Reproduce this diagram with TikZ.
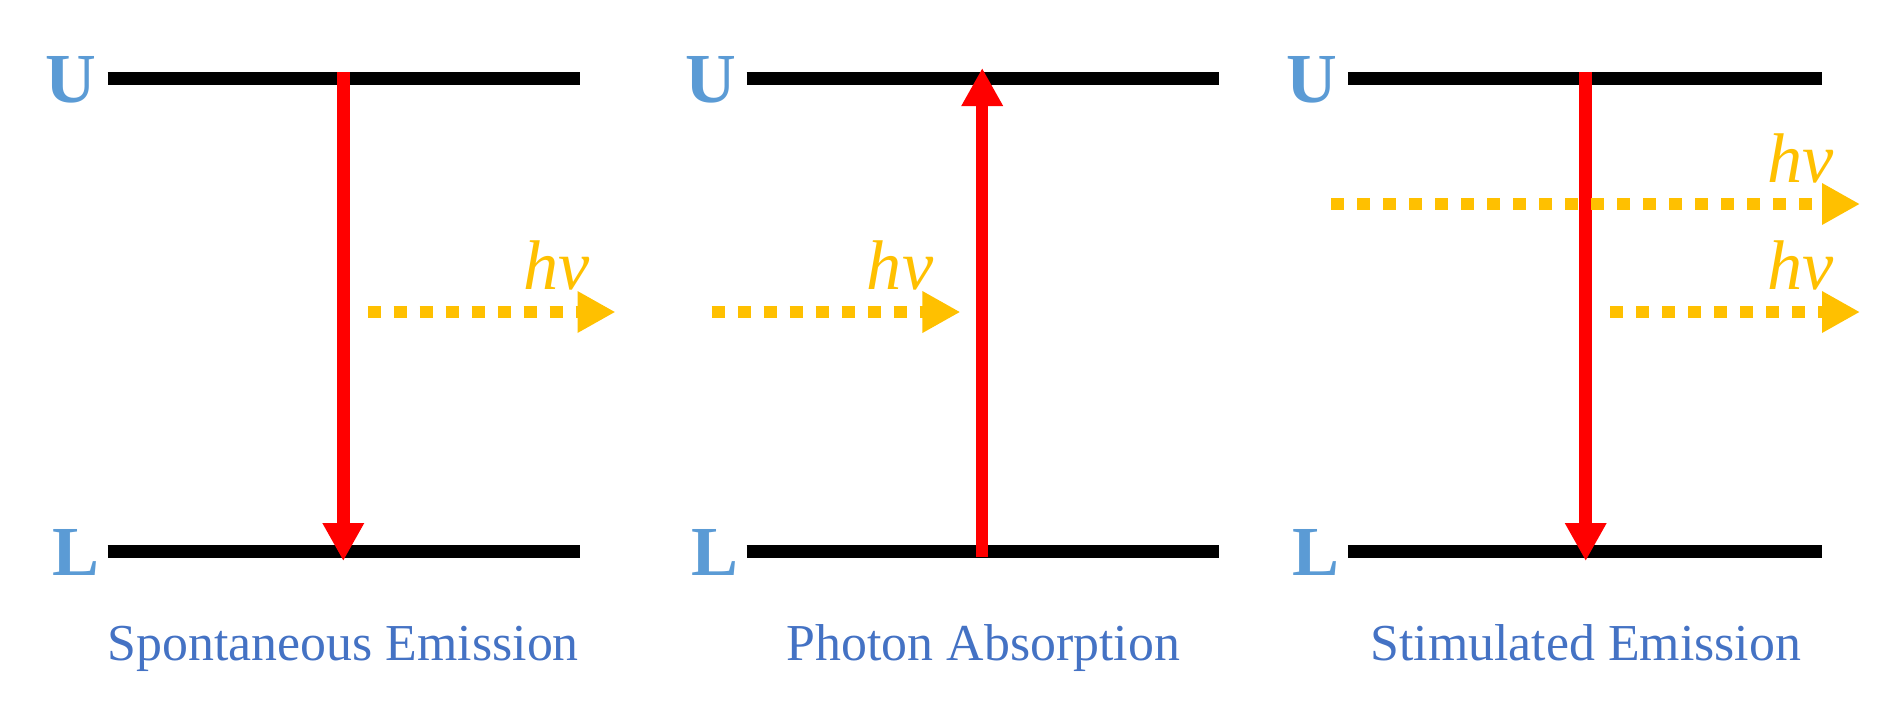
\documentclass[tikz,border=0pt]{standalone}
\usepackage{fontspec}
\setmainfont{Liberation Serif}
\usetikzlibrary{arrows.meta}
\definecolor{lvlblue}{HTML}{5B9BD5}
\definecolor{ttlblue}{HTML}{4472C4}
\definecolor{photon}{HTML}{FFC000}

\begin{document}
\begin{tikzpicture}[
  level/.style={line width=0.13cm,black},
  trans/.style={line width=0.125cm,red,-{Triangle[length=0.38cm,width=0.39cm]}},
  ph/.style={line width=0.12cm,photon,dash pattern=on 0.13cm off 0.13cm,
             -{Triangle[length=0.38cm,width=0.39cm]}},
  lvl/.style={font=\fontsize{20pt}{22pt}\selectfont\bfseries,text=lvlblue,inner sep=0pt},
  hnu/.style={font=\fontsize{20pt}{22pt}\selectfont\itshape,text=photon,inner sep=0pt,anchor=base east},
  ttl/.style={font=\fontsize{14.75pt}{17pt}\selectfont,text=ttlblue,inner sep=0pt,anchor=base},
]
\useasboundingbox (0,0) rectangle (18.97,-7.09);
% spontaneous emission
\coordinate (ua) at (1.077,-0.785);
\coordinate (ub) at (5.796,-0.785);
\coordinate (la) at (1.077,-5.515);
\coordinate (lb) at (5.796,-5.515);
\coordinate (ea) at (3.433,-0.72);
\coordinate (eb) at (3.433,-5.61);
\coordinate (pa) at (3.675,-3.12);
\coordinate (pb) at (6.155,-3.12);
\node[lvl] (U1) at (0.71,-0.80) {U};
\node[lvl] (L1) at (0.76,-5.52) {L};
\draw[level] (ua) -- (ub);
\draw[level] (la) -- (lb);
\draw[trans] (ea) -- (eb);
\draw[ph] (pa) -- (pb);
\node[hnu] (nu1) at (5.906,-2.89) {hν};
\node[ttl] (t1) at (3.434,-6.60) {Spontaneous Emission};
% photon absorption
\coordinate (uc) at (7.465,-0.785);
\coordinate (ud) at (12.187,-0.785);
\coordinate (lc) at (7.465,-5.515);
\coordinate (ld) at (12.187,-5.515);
\coordinate (ec) at (9.822,-5.57);
\coordinate (ed) at (9.822,-0.68);
\coordinate (pc) at (7.117,-3.12);
\coordinate (pd) at (9.604,-3.12);
\node[lvl] (U2) at (7.107,-0.80) {U};
\node[lvl] (L2) at (7.145,-5.52) {L};
\draw[level] (uc) -- (ud);
\draw[level] (lc) -- (ld);
\draw[trans] (ec) -- (ed);
\draw[ph] (pc) -- (pd);
\node[hnu] (nu2) at (9.34,-2.89) {hν};
\node[ttl] (t2) at (9.834,-6.60) {Photon Absorption};
% stimulated emission
\coordinate (ue) at (13.478,-0.785);
\coordinate (uf) at (18.224,-0.785);
\coordinate (le) at (13.478,-5.515);
\coordinate (lf) at (18.224,-5.515);
\coordinate (ee) at (15.857,-0.72);
\coordinate (ef) at (15.857,-5.61);
\coordinate (pe) at (13.314,-2.04);
\coordinate (pf) at (18.60,-2.04);
\coordinate (pg) at (16.10,-3.12);
\coordinate (pj) at (18.60,-3.12);
\node[lvl] (U3) at (13.12,-0.80) {U};
\node[lvl] (L3) at (13.16,-5.52) {L};
\draw[level] (ue) -- (uf);
\draw[level] (le) -- (lf);
\draw[trans] (ee) -- (ef);
\draw[ph] (pe) -- (pf);
\draw[ph] (pg) -- (pj);
\node[hnu] (nu3) at (18.346,-1.82) {hν};
\node[hnu] (nu4) at (18.346,-2.89) {hν};
\node[ttl] (t3) at (15.857,-6.60) {Stimulated Emission};
\end{tikzpicture}
\end{document}
